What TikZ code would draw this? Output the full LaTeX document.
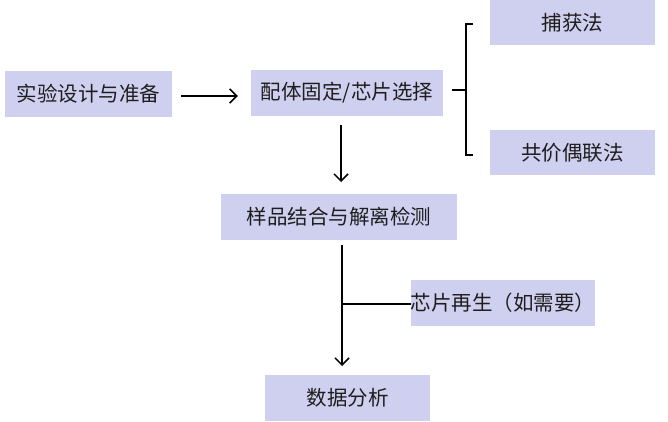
\documentclass[tikz,border=0pt]{standalone}
\usepackage{fontspec}
\setmainfont{Noto Sans CJK SC}
\usetikzlibrary{arrows.meta}
\definecolor{boxfill}{RGB}{207,207,239}
\definecolor{txt}{RGB}{30,30,30}
\tikzset{
  stepbox/.style={fill=boxfill, draw=none, inner sep=0pt, align=center,
    text=txt, font=\fontsize{20.5pt}{24pt}\selectfont},
  conn/.style={line width=1.5pt, black},
  arr/.style={conn, -{Straight Barb[length=7pt,width=14pt]}},
}
\begin{document}
\begin{tikzpicture}[x=1pt,y=-1pt]
\useasboundingbox (0,0) rectangle (668,422);
\node[stepbox, minimum width=167pt, minimum height=46pt] (b1) at (88.5,94) {实验设计与准备};
\node[stepbox, minimum width=192pt, minimum height=46pt] (b2) at (347,93) {配体固定/芯片选择};
\node[stepbox, minimum width=165pt, minimum height=45pt] (cap) at (572.5,22.5) {捕获法};
\node[stepbox, minimum width=165pt, minimum height=45pt] (cov) at (572.5,152.5) {共价偶联法};
\node[stepbox, minimum width=236pt, minimum height=46pt] (b3) at (339,217) {样品结合与解离检测};
\node[stepbox, minimum width=182pt, minimum height=46pt] (regen) at (503,303) {芯片再生（如需要）};
\node[stepbox, minimum width=165pt, minimum height=46pt] (b4) at (347.5,398) {数据分析};
% connectors
\draw[arr] ([xshift=9pt]b1.east |- 0,96) -- ([xshift=-13pt]b2.west |- 0,96);
\coordinate (d1s) at (341,125);
\coordinate (d1e) at (341,182);
\draw[arr] (d1s) -- (d1e);
% bracket
\coordinate (brL) at (452,90);
\coordinate (brM) at (466,90);
\coordinate (brT) at (466,24);
\coordinate (brB) at (466,155);
\draw[conn] (brL) -- (brM);
\draw[conn, line cap=butt] ([xshift=7pt]brT) -- (brT) -- (brB) -- ([xshift=7pt]brB);
% lower flow
\coordinate (d2s) at (342,245);
\coordinate (d2e) at (342,366);
\coordinate (jn) at (342,304);
\draw[arr] (d2s) -- (d2e);
\draw[conn] (jn) -- (regen.west |- jn);
\end{tikzpicture}
\end{document}
